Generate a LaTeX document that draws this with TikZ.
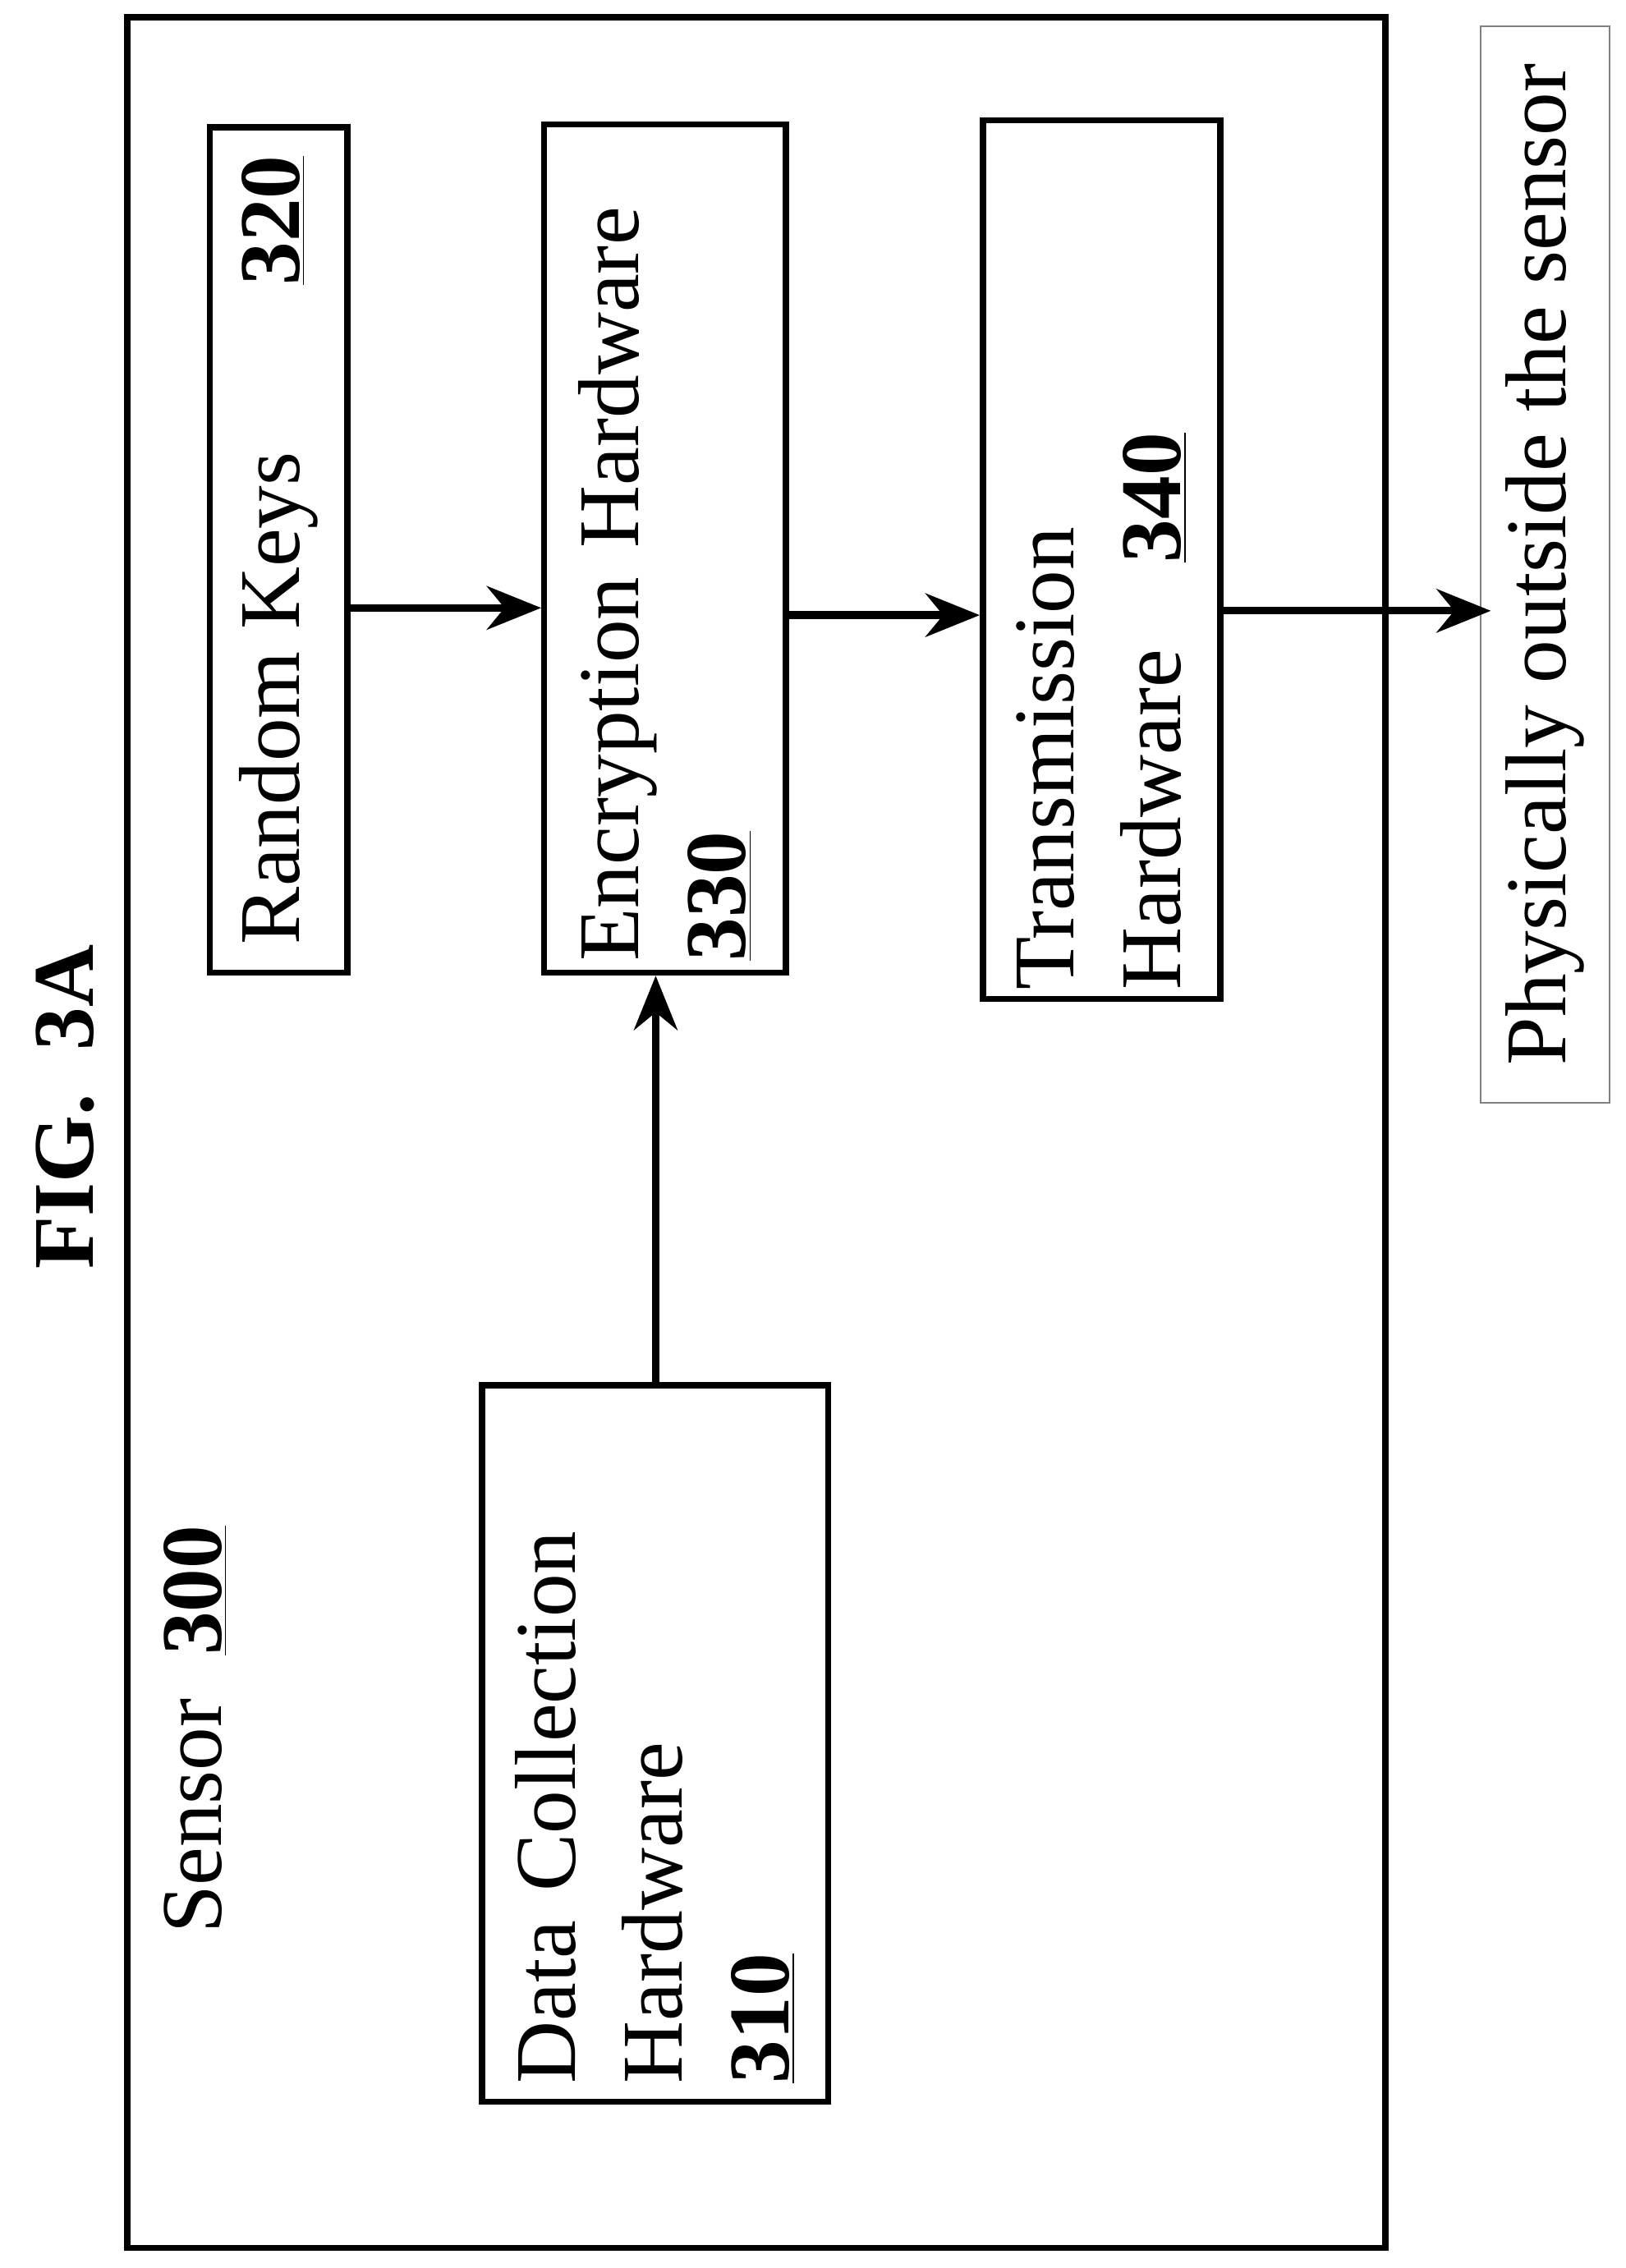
\documentclass[tikz,border=0pt]{standalone}
\usepackage{fontspec}
\setmainfont{Liberation Serif}
\usetikzlibrary{positioning}
\usetikzlibrary{arrows.meta}
\tikzset{
    hwbox/.style = {rectangle, draw=black, line width=2.4pt, rotate=90, inner sep=0pt, align=left, font=\fontsize{34}{42}\selectfont},
    outbox/.style = {rectangle, draw=gray, line width=0.6pt, rotate=90, inner sep=0pt, font=\fontsize{34}{42}\selectfont},
    flow/.style = {-{Stealth[length=0.75cm,width=0.6cm]}, line width=3pt, black}
}
\newcommand{\refnum}[1]{\textbf{\underline{#1}}}

\begin{document}
\begin{tikzpicture}
  \useasboundingbox (0,0) rectangle (22.46,-31.34);
  % sensor enclosure
  \draw[line width=2.4pt] (1.76,-0.24) rectangle (19.14,-31.06);
  \node[rotate=90, font=\fontsize{34}{42}\selectfont\bfseries] (fig) at (0.9,-15.3) {FIG.\ \ 3A};
  \node[rotate=90, font=\fontsize{34}{42}\selectfont] (sensor) at (2.7,-23.9) {Sensor \ \refnum{300}};
  % blocks
  \node[hwbox, minimum width=11.68cm, minimum height=1.9cm] (rk) at (3.85,-7.6)
    {\makebox[10.9cm][l]{Random Keys\hfill\refnum{320}}};
  \node[hwbox, minimum width=11.72cm, minimum height=3.34cm, text width=11.4cm] (enc) at (9.19,-7.58)
    {Encryption Hardware\\\refnum{330}};
  \node[hwbox, minimum width=12.14cm, minimum height=3.28cm, text width=11.9cm] (tx) at (15.22,-7.73)
    {Transmission\\Hardware \ \ \refnum{340}};
  \node[hwbox, minimum width=9.9cm, minimum height=4.78cm, text width=9.4cm] (dc) at (9.05,-24.09)
    {Data Collection\\Hardware\\\refnum{310}};
  \node[outbox, minimum width=14.88cm, minimum height=1.78cm] (out) at (21.35,-7.8)
    {Physically outside the sensor};
  \coordinate (exit) at (20.6,-8.44);
  % connectors
  \draw[flow] (rk.south |- 0,-8.4) -- (enc.north |- 0,-8.4);
  \draw[flow] (enc.south |- 0,-8.5) -- (tx.north |- 0,-8.5);
  \draw[flow] (tx.south |- exit) -- (exit);
  \draw[flow] (dc.east -| 9.06,0) -- (enc.west -| 9.06,0);
\end{tikzpicture}
\end{document}
